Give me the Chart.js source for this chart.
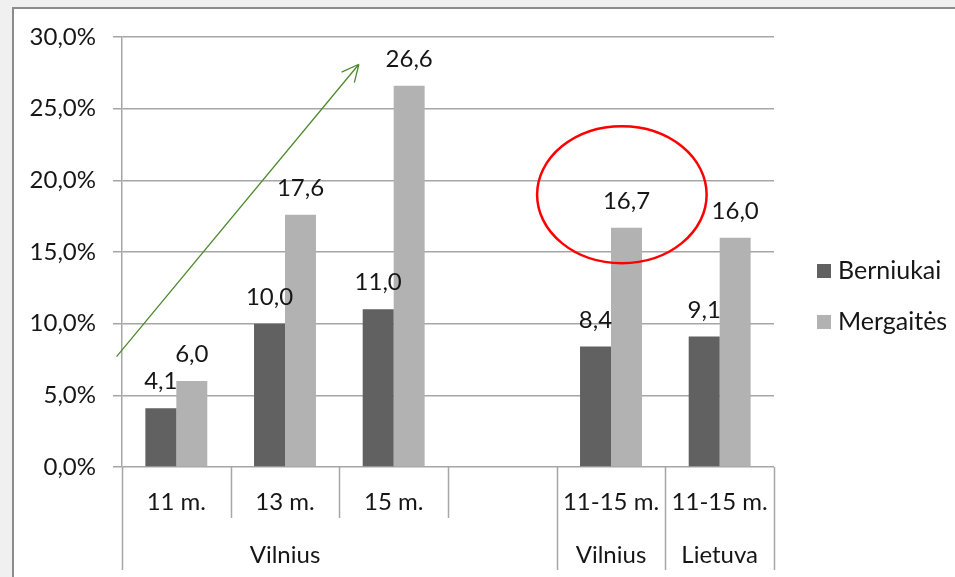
<!DOCTYPE html>
<html lang="lt">
<head>
<meta charset="utf-8">
<title>Berniukai ir mergaitės</title>
<script src="https://cdn.jsdelivr.net/npm/chart.js@4/dist/chart.umd.min.js"></script>
<style>
  html, body { margin: 0; padding: 0; background: #f0f0f0; overflow: hidden; }
  #frame {
    position: absolute; left: 12px; top: 7px; width: 1200px; height: 800px;
    background: #ffffff; border: 2px solid #8c8c8c; box-sizing: border-box;
  }
  #chart { position: absolute; left: 0; top: 0; }
</style>
</head>
<body>
<div id="frame"></div>
<canvas id="chart" width="955" height="577"></canvas>
<script>
// Category axis: first level (age) and second level (place)
const categories = ['11 m.', '13 m.', '15 m.', '', '11-15 m.', '11-15 m.'];
const groupLabels = ['Vilnius', 'Vilnius', 'Lietuva'];
const groupSpans = [4, 1, 1];

// Series values, %
const berniukai = [4.1, 10.0, 11.0, null, 8.4, 9.1];
const mergaites = [6.0, 17.6, 26.6, null, 16.7, 16.0];
const seriesNames = ['Berniukai', 'Mergaitės'];

// Value axis ticks, %
const yTicks = [0, 5, 10, 15, 20, 25, 30];

// Trend arrow and highlight ellipse, in axis units (category index, %)
const arrowFrom = [-0.55, 7.7];
const arrowTo = [1.68, 28.1];
const ellipseCenter = [4.1, 19.0];
const ellipseRadius = [0.78, 4.78];

const FONT = 'Lato, "Open Sans", sans-serif';
const TEXT = '#161616';
const GRID = '#a6a6a6';
const DARK = '#616161';
const LIGHT = '#b2b2b2';

const fmt = v => v.toFixed(1).replace('.', ',');

const overlay = {
  id: 'overlay',
  afterDatasetsDraw(chart) {
    const ctx = chart.ctx;
    const x = chart.scales.x, y = chart.scales.y;
    const area = chart.chartArea;
    ctx.save();

    // value labels above bars
    ctx.font = '24px ' + FONT;
    ctx.fillStyle = TEXT;
    ctx.textAlign = 'center';
    ctx.textBaseline = 'alphabetic';
    chart.data.datasets.forEach((ds, di) => {
      chart.getDatasetMeta(di).data.forEach((bar, i) => {
        const v = ds.data[i];
        if (v == null) return;
        ctx.fillText(fmt(v), bar.x, bar.y - 19);
      });
    });

    // multi-level category axis
    const half = (x.getPixelForValue(1) - x.getPixelForValue(0)) / 2;
    const edge = i => x.getPixelForValue(i) - half;
    const base = area.bottom;
    ctx.strokeStyle = GRID;
    ctx.lineWidth = 1.5;
    const groupStarts = [];
    let s = 0;
    groupSpans.forEach(n => { groupStarts.push(s); s += n; });
    for (let i = 0; i <= categories.length; i++) {
      const long = i === categories.length || groupStarts.includes(i);
      ctx.beginPath();
      ctx.moveTo(Math.round(edge(i)) + 0.5, base);
      ctx.lineTo(Math.round(edge(i)) + 0.5, long ? base + 103 : base + 51);
      ctx.stroke();
    }
    ctx.font = '24px ' + FONT;
    ctx.fillStyle = TEXT;
    categories.forEach((c, i) => {
      if (c) ctx.fillText(c, x.getPixelForValue(i), base + 43);
    });
    groupLabels.forEach((g, gi) => {
      const idx = [];
      for (let k = groupStarts[gi]; k < groupStarts[gi] + groupSpans[gi]; k++) {
        if (categories[k]) idx.push(k);
      }
      const cx = (x.getPixelForValue(idx[0]) + x.getPixelForValue(idx[idx.length - 1])) / 2;
      ctx.fillText(g, cx, base + 96);
    });

    // legend
    ctx.font = '25px ' + FONT;
    ctx.textAlign = 'left';
    ctx.textBaseline = 'middle';
    [DARK, LIGHT].forEach((col, k) => {
      const ly = 271 + k * 51;
      ctx.fillStyle = col;
      ctx.fillRect(817, ly - 7, 14, 14);
      ctx.fillStyle = TEXT;
      ctx.fillText(seriesNames[k], 838, ly);
    });

    // trend arrow
    const unitX = v => x.getPixelForValue(0) + v * (half * 2);
    const ax0 = unitX(arrowFrom[0]), ay0 = y.getPixelForValue(arrowFrom[1]);
    const ax1 = unitX(arrowTo[0]), ay1 = y.getPixelForValue(arrowTo[1]);
    ctx.strokeStyle = '#4e8a2e';
    ctx.lineWidth = 1.3;
    ctx.beginPath();
    ctx.moveTo(ax0, ay0);
    ctx.lineTo(ax1, ay1);
    const ang = Math.atan2(ay1 - ay0, ax1 - ax0);
    [0.45, -0.45].forEach(d => {
      ctx.moveTo(ax1, ay1);
      ctx.lineTo(ax1 - 19 * Math.cos(ang + d), ay1 - 19 * Math.sin(ang + d));
    });
    ctx.stroke();

    // highlight ellipse
    const ex = unitX(ellipseCenter[0]), ey = y.getPixelForValue(ellipseCenter[1]);
    const rx = ellipseRadius[0] * half * 2;
    const ry = Math.abs(y.getPixelForValue(ellipseRadius[1]) - y.getPixelForValue(0));
    ctx.strokeStyle = '#ff0000';
    ctx.lineWidth = 2.5;
    ctx.beginPath();
    ctx.ellipse(ex, ey, rx, ry, 0, 0, Math.PI * 2);
    ctx.stroke();

    ctx.restore();
  }
};

new Chart(document.getElementById('chart'), {
  type: 'bar',
  data: {
    labels: categories,
    datasets: [
      { label: seriesNames[0], data: berniukai, backgroundColor: DARK, borderWidth: 0 },
      { label: seriesNames[1], data: mergaites, backgroundColor: LIGHT, borderWidth: 0 }
    ]
  },
  options: {
    responsive: false,
    animation: false,
    devicePixelRatio: 1,
    categoryPercentage: 0.57,
    barPercentage: 1.0,
    layout: { padding: { left: 0, top: 37, right: 181, bottom: 0 } },
    plugins: { legend: { display: false }, tooltip: { enabled: false } },
    scales: {
      x: {
        ticks: { display: false },
        grid: { display: false },
        border: { display: false },
        afterFit: s => { s.height = 110; }
      },
      y: {
        min: 0,
        max: 30,
        afterBuildTicks: s => { s.ticks = yTicks.map(v => ({ value: v })); },
        afterFit: s => { s.width = 122; },
        ticks: {
          callback: v => fmt(v) + '%',
          font: { family: FONT, size: 24 },
          color: TEXT,
          padding: 17
        },
        grid: { color: GRID, lineWidth: 1.5, tickLength: 9, drawTicks: true },
        border: { display: true, color: GRID, width: 1.5 }
      }
    }
  },
  plugins: [overlay]
});
</script>
</body>
</html>
